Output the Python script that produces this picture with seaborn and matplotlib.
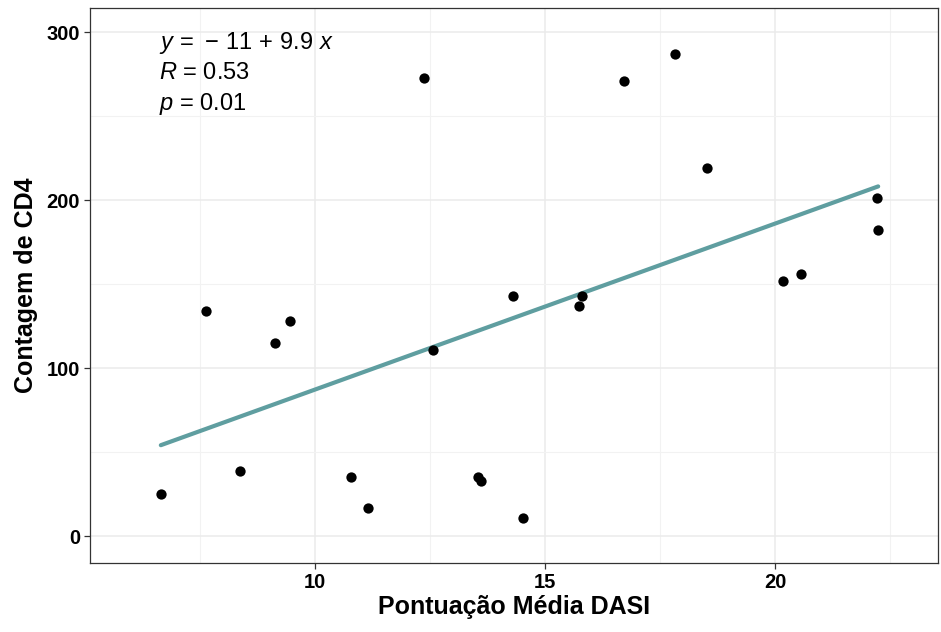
import matplotlib
matplotlib.use('Agg')
import matplotlib.pyplot as plt
import numpy as np
import pandas as pd
import seaborn as sns

# valores
dasi = [6.65, 7.63, 8.37, 9.13, 9.46, 10.78, 11.15, 12.37, 12.57, 13.54, 13.61,
        14.30, 14.52, 15.74, 15.80, 16.72, 17.83, 18.52, 20.17, 20.57, 22.22, 22.24]
cd4 = [25, 134, 39, 115, 128, 35, 17, 273, 111, 35, 33,
       143, 11, 137, 143, 271, 287, 219, 152, 156, 201, 182]
x_ticks = [10, 15, 20]
y_ticks = [0, 100, 200, 300]
stats_text = ['$y\\,=\\,-\\,11\\,+\\,9.9\\ x$', '$R$ = 0.53', '$p$ = 0.01']

df = pd.DataFrame({'dasi': dasi, 'cd4': cd4})

sns.set_theme(style='whitegrid')
plt.rcParams['font.family'] = ['Liberation Sans', 'DejaVu Sans']
plt.rcParams['mathtext.fontset'] = 'custom'
plt.rcParams['mathtext.rm'] = 'Liberation Sans'
plt.rcParams['mathtext.it'] = 'Liberation Sans:italic'

fig = plt.figure(figsize=(9.41, 6.32), dpi=100)
ax = fig.add_axes([0.0956, 0.109, 0.9012, 0.878])

sns.regplot(data=df, x='dasi', y='cd4', ci=None, ax=ax,
            scatter_kws=dict(color='black', s=55, linewidths=0, alpha=1, zorder=3),
            line_kws=dict(color='#5F9EA0', lw=3, zorder=2))

ax.set_xlim(5.11, 23.54)
ax.set_ylim(-16.1, 314.3)
ax.set_xticks(x_ticks)
ax.set_yticks(y_ticks)
ax.set_xticks([7.5, 12.5, 17.5, 22.5], minor=True)
ax.set_yticks([50, 150, 250], minor=True)
ax.grid(which='major', color='#EBEBEB', lw=1.1)
ax.grid(which='minor', color='#F2F2F2', lw=0.8)
ax.set_axisbelow(True)
for s in ax.spines.values():
    s.set_color('#333333')
    s.set_linewidth(0.9)
    s.set_visible(True)
ax.tick_params(which='major', length=4, width=0.9, color='#333333',
               labelsize=14.5, labelcolor='black', pad=3, bottom=True, left=True)
ax.tick_params(which='minor', length=0)
for lab in ax.get_xticklabels() + ax.get_yticklabels():
    lab.set_fontweight('bold')

ax.set_xlabel('Pontuação Média DASI', fontsize=18, fontweight='bold',
              color='black', labelpad=2)
ax.set_ylabel('Contagem de CD4', fontsize=18, fontweight='bold',
              color='black', labelpad=6)

for i, t in enumerate(stats_text):
    ax.text(6.6, 293.5 - i * 18, t, fontsize=17, color='black', va='center', ha='left')

fig.savefig('out.png', dpi=100)
plt.close(fig)
